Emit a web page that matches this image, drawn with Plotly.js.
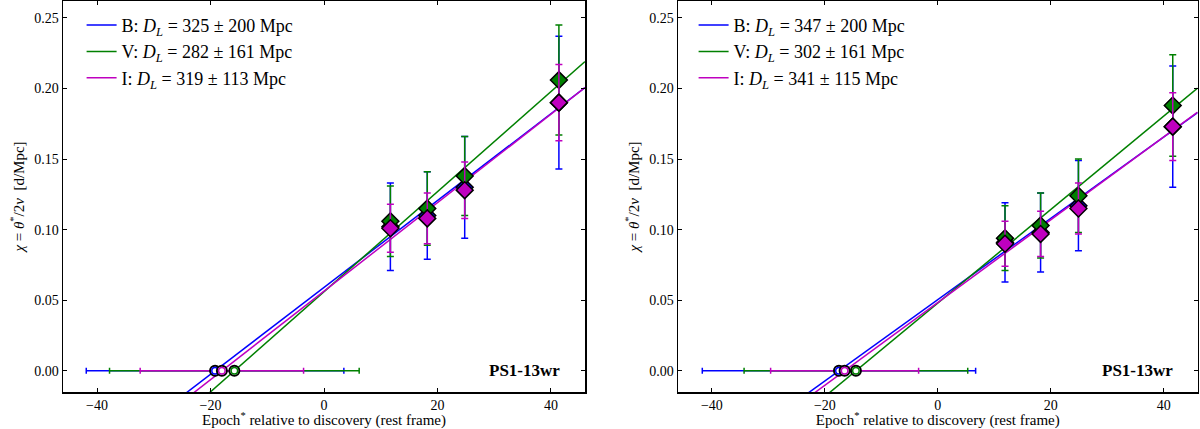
<!DOCTYPE html>
<html>
<head>
<meta charset="utf-8">
<script src="https://cdn.plot.ly/plotly-3.0.1.min.js"></script>
<style>
  html, body { margin: 0; padding: 0; background: #fff; }
  #chart { width: 1200px; height: 429px; }
</style>
</head>
<body>
<div id="chart"></div>
<script>
/* ── data ─────────────────────────────────────────────── */
const bands = ["B", "V", "I"];

// epochs of the diamond points (rest frame days)
const epochLeft  = [11.7, 18.2, 24.8, 41.4];
const epochRight = [11.9, 18.2, 24.9, 41.6];

// chi values and errors, left panel
const chiLeftB    = [0.102, 0.110, 0.130, 0.190];
const chiLeftBErr = [0.031, 0.031, 0.036, 0.047];
const chiLeftV    = [0.106, 0.115, 0.138, 0.206];
const chiLeftVErr = [0.025, 0.026, 0.028, 0.039];
const chiLeftI    = [0.101, 0.108, 0.128, 0.190];
const chiLeftIErr = [0.017, 0.018, 0.020, 0.027];

// chi values and errors, right panel
const chiRightB    = [0.091, 0.098, 0.117, 0.173];
const chiRightBErr = [0.028, 0.028, 0.032, 0.043];
const chiRightV    = [0.094, 0.103, 0.124, 0.188];
const chiRightVErr = [0.023, 0.023, 0.026, 0.036];
const chiRightI    = [0.090, 0.097, 0.115, 0.173];
const chiRightIErr = [0.016, 0.016, 0.018, 0.024];

// explosion epoch (x intercept) and its error, per band B, V, I
const t0Left     = [-19.2, -15.8, -18.0];
const t0LeftErr  = [22.7, 22.0, 14.4];
const t0Right    = [-17.5, -14.5, -16.5];
const t0RightErr = [24.2, 19.8, 13.1];

// distances from the legend (Mpc), per band B, V, I
const dlLeft     = [325, 282, 319];
const dlLeftErr  = [200, 161, 113];
const dlRight    = [347, 302, 341];
const dlRightErr = [200, 161, 115];

const xTicks = [-40, -20, 0, 20, 40];
const yTicks = [0.00, 0.05, 0.10, 0.15, 0.20, 0.25];

/* ── style ─────────────────────────────────────────────── */
const colors = { B: "#0000ff", V: "#008000", I: "#bf00bf" };
const serif  = "Liberation Serif, Times New Roman, serif";
const xRange = [-46, 46];
const yRange = [-0.015, 0.262];

/* ── traces ────────────────────────────────────────────── */
function panelTraces(xa, ya, legendId, epochs, chis, chiErrs, t0, t0Err, dl, dlErr) {
    const traces = [];

    // fitted lines chi = (t - t0) / D_L
    bands.forEach((b, i) => {
        traces.push({
            x: xRange,
            y: xRange.map(t => (t - t0[i]) / dl[i]),
            xaxis: xa, yaxis: ya,
            type: "scatter", mode: "lines",
            line: { color: colors[b], width: 1.5 },
            name: `${b}: <i>D<sub>L</sub></i> = ${dl[i]} ± ${dlErr[i]} Mpc`,
            legend: legendId,
            hoverinfo: "skip"
        });
    });

    // horizontal error bars on the intercepts
    bands.forEach((b, i) => {
        traces.push({
            x: [t0[i]], y: [0],
            xaxis: xa, yaxis: ya,
            type: "scatter", mode: "markers",
            marker: { color: "rgba(0,0,0,0)", size: 1 },
            error_x: { type: "data", array: [t0Err[i]], visible: true,
                       color: colors[b], thickness: 1.5, width: 3 },
            showlegend: false, hoverinfo: "skip"
        });
    });

    // open circles at the intercepts
    bands.forEach((b, i) => {
        traces.push({
            x: [t0[i]], y: [0],
            xaxis: xa, yaxis: ya,
            type: "scatter", mode: "markers",
            marker: { symbol: "circle", size: 10, color: "#ffffff",
                      line: { color: "#000000", width: 2 } },
            showlegend: false, hoverinfo: "skip"
        });
        traces.push({
            x: [t0[i]], y: [0],
            xaxis: xa, yaxis: ya,
            type: "scatter", mode: "markers",
            marker: { symbol: "circle-open", size: 6.5, color: colors[b],
                      line: { color: colors[b], width: 1.5 } },
            showlegend: false, hoverinfo: "skip"
        });
    });

    // diamonds with vertical error bars
    bands.forEach((b, i) => {
        traces.push({
            x: epochs, y: chis[i],
            xaxis: xa, yaxis: ya,
            type: "scatter", mode: "markers",
            marker: { symbol: "diamond", size: 13, color: colors[b],
                      line: { color: "#000000", width: 1.5 } },
            error_y: { type: "data", array: chiErrs[i], visible: true,
                       color: colors[b], thickness: 1.5, width: 3.5 },
            showlegend: false,
            hovertemplate: `${b}: %{x}, %{y:.3f}<extra></extra>`
        });
    });

    return traces;
}

const data = [
    ...panelTraces("x", "y", "legend", epochLeft,
        [chiLeftB, chiLeftV, chiLeftI], [chiLeftBErr, chiLeftVErr, chiLeftIErr],
        t0Left, t0LeftErr, dlLeft, dlLeftErr),
    ...panelTraces("x2", "y2", "legend2", epochRight,
        [chiRightB, chiRightV, chiRightI], [chiRightBErr, chiRightVErr, chiRightIErr],
        t0Right, t0RightErr, dlRight, dlRightErr)
];

/* ── layout ────────────────────────────────────────────── */
function xAxis(domain, anchor) {
    return {
        domain: domain, anchor: anchor, range: xRange,
        tickmode: "array", tickvals: xTicks,
        ticks: "inside", ticklen: 4, tickwidth: 1, tickcolor: "#000",
        showline: true, linecolor: "#000", linewidth: 1.5, mirror: "ticks",
        showgrid: false, zeroline: false,
        tickfont: { family: serif, size: 14, color: "#000" },
        title: { text: "Epoch<sup>*</sup> relative to discovery (rest frame)",
                 font: { family: serif, size: 15, color: "#000" }, standoff: 4 }
    };
}
function yAxis(anchor) {
    return {
        domain: [0, 1], anchor: anchor, range: yRange,
        tickmode: "array", tickvals: yTicks, tickformat: ".2f",
        ticks: "inside", ticklen: 4, tickwidth: 1, tickcolor: "#000",
        showline: true, linecolor: "#000", linewidth: 1.5, mirror: "ticks",
        showgrid: false, zeroline: false,
        tickfont: { family: serif, size: 14, color: "#000" },
        title: { text: "<i>χ</i> = <i>θ</i><sup>*</sup>/2<i>v</i>  [d/Mpc]",
                 font: { family: serif, size: 15, color: "#000" }, standoff: 6 }
    };
}
function legendAt(x) {
    return {
        x: x, y: 0.985, xanchor: "left", yanchor: "top",
        bgcolor: "rgba(0,0,0,0)", borderwidth: 0,
        font: { family: serif, size: 18, color: "#000" },
        tracegroupgap: 0, itemwidth: 30
    };
}

const layout = {
    width: 1200, height: 429,
    margin: { l: 0, r: 0, t: 1, b: 37 },
    paper_bgcolor: "#ffffff", plot_bgcolor: "#ffffff",
    showlegend: true,
    xaxis:  xAxis([0.0525, 0.4875], "y"),
    yaxis:  yAxis("x"),
    xaxis2: xAxis([0.565, 0.998], "y2"),
    yaxis2: yAxis("x2"),
    legend:  legendAt(0.068),
    legend2: legendAt(0.578),
    annotations: [
        { xref: "x", yref: "y", x: 42, y: 0, xanchor: "right", yanchor: "middle",
          text: "<b>PS1-13wr</b>", showarrow: false,
          font: { family: serif, size: 17, color: "#000" } },
        { xref: "x2", yref: "y2", x: 42, y: 0, xanchor: "right", yanchor: "middle",
          text: "<b>PS1-13wr</b>", showarrow: false,
          font: { family: serif, size: 17, color: "#000" } }
    ]
};

Plotly.newPlot("chart", data, layout, { displayModeBar: false, staticPlot: true });
</script>
</body>
</html>
